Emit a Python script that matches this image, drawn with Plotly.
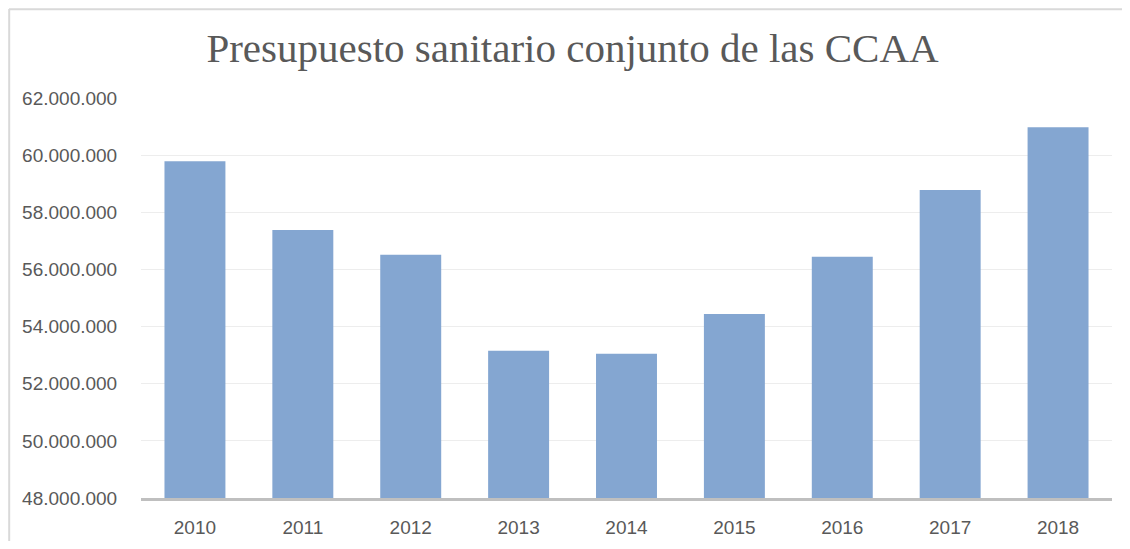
import plotly.graph_objects as go

years = ["2010", "2011", "2012", "2013", "2014", "2015", "2016", "2017", "2018"]
presupuesto = [59790000, 57380000, 56510000, 53150000, 53050000, 54440000, 56440000, 58780000, 60980000]
y_ticks = [48000000, 50000000, 52000000, 54000000, 56000000, 58000000, 60000000, 62000000]
title_text = "Presupuesto sanitario conjunto de las CCAA"

# the page body has an 8px margin on every side; size the figure so the page
# does not overflow the 1130x549 window, and work in page pixels
OFF = 8
PAGE_W, PAGE_H = 1130, 549
W, H = PAGE_W - 2 * OFF, PAGE_H - 2 * OFF
PL, PR, PT, PB = 141, 1112, 98, 498.5   # plot area in page pixels
ML, MR, MT, MB = PL - OFF, W - (PR - OFF), PT - OFF, H - (PB - OFF)
pw, ph = W - ML - MR, H - MT - MB

def px_x(p):
    return (p - OFF - ML) / pw

def px_y(p):
    return (H - MB - (p - OFF)) / ph

fig = go.Figure(go.Bar(
    x=years, y=presupuesto,
    marker=dict(color="#84A6D1", line=dict(width=0)),
    hoverinfo="x+y",
))

fig.update_layout(
    width=W, height=H,
    margin=dict(l=ML, r=MR, t=MT, b=MB, pad=0, autoexpand=False),
    paper_bgcolor="white", plot_bgcolor="white",
    separators=",.",
    bargap=0.435,
    showlegend=False,
    title=dict(text=title_text, xref="container", x=(572.5 - OFF) / W, xanchor="center",
               yref="container", y=1 - (47.5 - OFF) / H, yanchor="middle",
               font=dict(family="Liberation Serif", size=41, color="#595959")),
    font=dict(family="Liberation Sans", color="#595959", size=19),
    xaxis=dict(showgrid=False, showline=True, linecolor="#BFBFBF", linewidth=2.5,
               ticks="outside", ticklen=10, tickcolor="rgba(0,0,0,0)", automargin=False,
               tickfont=dict(size=19, color="#595959"), fixedrange=True),
    yaxis=dict(range=[48000000, 62000000], tickvals=y_ticks, tickformat=",d",
               showgrid=True, gridcolor="#EDEDED", gridwidth=1.2, zeroline=False,
               showline=False, ticks="outside", ticklen=19, tickcolor="rgba(0,0,0,0)",
               automargin=False,
               tickfont=dict(size=19, color="#595959"), fixedrange=True),
    shapes=[
        dict(type="line", xref="paper", yref="paper", x0=px_x(9), x1=px_x(PAGE_W), y0=px_y(9.2), y1=px_y(9.2),
             line=dict(color="#D9D9D9", width=2)),
        dict(type="line", xref="paper", yref="paper", x0=px_x(9.2), x1=px_x(9.2), y0=px_y(9), y1=px_y(PAGE_H),
             line=dict(color="#D9D9D9", width=2)),
    ],
)

fig.write_html("out.html")
